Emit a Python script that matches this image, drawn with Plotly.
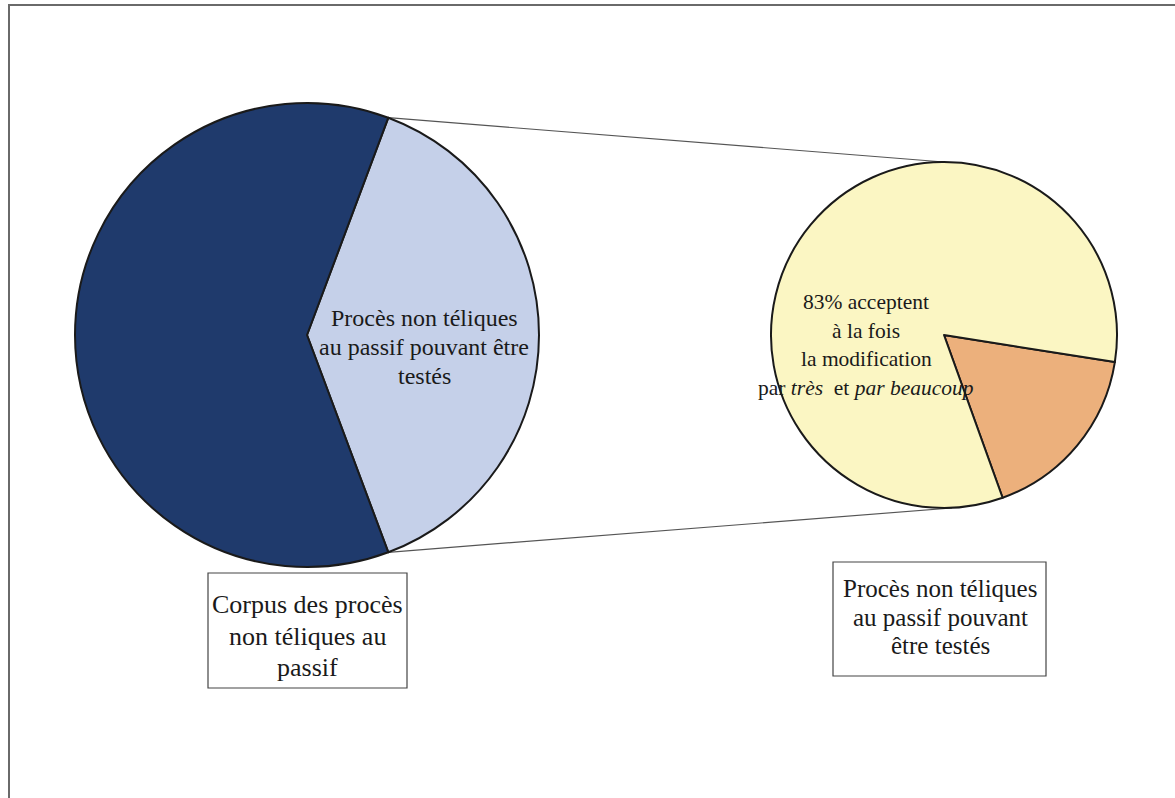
import math
import plotly.graph_objects as go

# ---- data ----
left_labels = ["Procès non téliques au passif pouvant être testés", "Autres procès non téliques au passif"]
left_values = [38.6, 61.4]
left_colors = ["#c5d0e9", "#1f3a6c"]

right_labels = ["Autres", "83% acceptent à la fois la modification par très et par beaucoup"]
right_values = [17, 83]
right_colors = ["#ecb07c", "#fbf6c3"]

left_slice_text = ["Procès non téliques", "au passif pouvant être", "testés"]
right_slice_text = ["83% acceptent", "à la fois", "la modification",
                    "par <i>très</i>  et <i>par beaucoup</i>"]
left_box_text = ["Corpus des procès", "non téliques au", "passif"]
right_box_text = ["Procès non téliques", "au passif pouvant", "être testés"]

# ---- geometry (pixels) ----
W, H = 1175, 798
LCX, LCY, LR = 307, 335, 232
RCX, RCY, RR = 944, 335, 173
FONT = "Liberation Serif, Times New Roman, serif"
TXT = "#1a1a1a"


def px(x):
    return x / W


def py(y):
    return 1 - y / H


share = left_values[0] / sum(left_values)
left_rot = 90 - 360 * share / 2
right_rot = 99

fig = go.Figure()
fig.add_trace(go.Pie(
    labels=left_labels, values=left_values, sort=False, direction="clockwise",
    rotation=left_rot, textinfo="none", hoverinfo="label+percent",
    marker=dict(colors=left_colors, line=dict(color="#1a1a1a", width=2)),
    domain=dict(x=[px(LCX - LR), px(LCX + LR)], y=[py(LCY + LR), py(LCY - LR)]),
    showlegend=False,
))
fig.add_trace(go.Pie(
    labels=right_labels, values=right_values, sort=False, direction="clockwise",
    rotation=right_rot, textinfo="none", hoverinfo="label+percent",
    marker=dict(colors=right_colors, line=dict(color="#1a1a1a", width=2)),
    domain=dict(x=[px(RCX - RR), px(RCX + RR)], y=[py(RCY + RR), py(RCY - RR)]),
    showlegend=False,
))

shapes = []
# outer border
shapes.append(dict(type="rect", xref="paper", yref="paper",
                   x0=px(9), x1=px(1190), y0=py(5), y1=py(820),
                   line=dict(color="#6a6a6a", width=2), fillcolor="rgba(0,0,0,0)"))
# connector lines from the split slice edges to the secondary pie
a0 = math.radians(left_rot)
a1 = math.radians(left_rot + 360 * share)
for a, (tx, ty) in [(a0, (RCX, RCY - RR)), (a1, (RCX + 8, RCY + RR))]:
    sx = LCX + LR * math.sin(a)
    sy = LCY - LR * math.cos(a)
    shapes.append(dict(type="line", xref="paper", yref="paper",
                       x0=px(sx), y0=py(sy), x1=px(tx), y1=py(ty),
                       line=dict(color="#555555", width=1.2), layer="below"))
# label boxes
shapes.append(dict(type="rect", xref="paper", yref="paper",
                   x0=px(208), x1=px(407), y0=py(573), y1=py(688),
                   line=dict(color="#444444", width=1.2), fillcolor="white"))
shapes.append(dict(type="rect", xref="paper", yref="paper",
                   x0=px(833), x1=px(1046), y0=py(562), y1=py(676),
                   line=dict(color="#444444", width=1.2), fillcolor="white"))

annotations = []


def add_lines(lines, cx, ys, size):
    for t, y in zip(lines, ys):
        annotations.append(dict(
            text=t, xref="paper", yref="paper", x=px(cx), y=py(y),
            xanchor="center", yanchor="middle", showarrow=False,
            font=dict(family=FONT, size=size, color=TXT)))


add_lines(left_slice_text, 424, [318, 347, 376], 24)
add_lines(right_slice_text, 866, [302, 331, 359, 388], 21.5)
add_lines(left_box_text, 307, [604, 636, 667], 26)
add_lines(right_box_text, 940, [588, 617, 645], 25)

fig.update_layout(
    width=W, height=H, margin=dict(l=0, r=0, t=0, b=0),
    paper_bgcolor="white", plot_bgcolor="white",
    shapes=shapes, annotations=annotations,
)
fig.write_html("out.html", config={"displayModeBar": False},
               post_script="document.body.style.margin='0';document.body.style.overflow='hidden';")
